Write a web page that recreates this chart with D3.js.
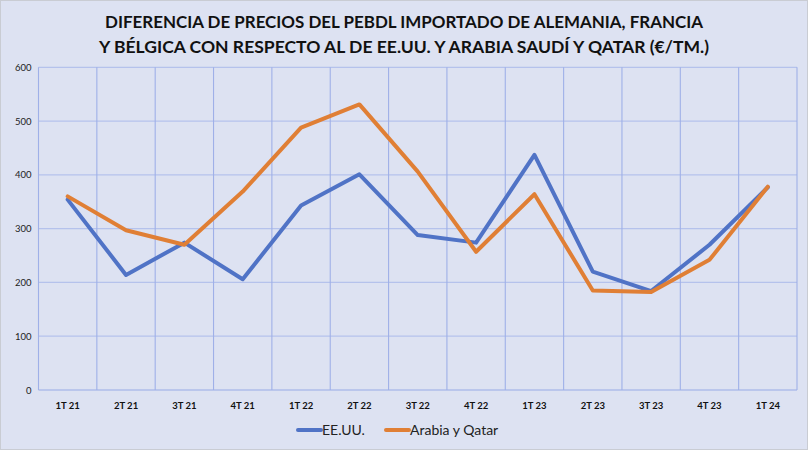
<!DOCTYPE html>
<html lang="es">
<head>
<meta charset="UTF-8">
<title>Diferencia de precios PEBDL</title>
<style>
  html, body { margin: 0; padding: 0; background: #ffffff; }
  svg { display: block; }
</style>
</head>
<body>
<svg id="chart" width="808" height="450"></svg>
<script src="https://d3js.org/d3.v7.min.js"></script>
<script>
  // datos
  var categories = ['1T 21', '2T 21', '3T 21', '4T 21', '1T 22', '2T 22', '3T 22', '4T 22',
                    '1T 23', '2T 23', '3T 23', '4T 23', '1T 24']
  var eeuu =   [354, 214, 274, 206, 343, 401, 288, 274, 437, 220, 184, 270, 377]
  var arabia = [360, 297, 270, 369, 488, 531, 406, 257, 364, 185, 182, 242, 378]
  var yTicks = [0, 100, 200, 300, 400, 500, 600]
  var seriesNames = ['EE.UU.', 'Arabia y Qatar']
  var titleLines = ['DIFERENCIA DE PRECIOS DEL PEBDL IMPORTADO DE ALEMANIA, FRANCIA',
                    'Y BÉLGICA CON RESPECTO AL DE EE.UU. Y ARABIA SAUDÍ Y QATAR (€/TM.)']

  var colors = ['#5073c6', '#e07f35']
  var W = 808, H = 450
  var margin = { left: 38.5, right: 11, top: 67.3, bottom: 60 }

  var svg = d3.select('#chart')

  // fondo con borde
  svg.append('rect')
    .attr('x', 0.5).attr('y', 0.5)
    .attr('width', W - 1).attr('height', H - 1)
    .style('fill', '#dde2f2')
    .style('stroke', '#c9ccd3')
    .style('stroke-width', '1px')

  var x = d3.scaleBand()
    .domain(categories)
    .range([margin.left, W - margin.right])
  var y = d3.scaleLinear()
    .domain([0, 600])
    .range([H - margin.bottom, margin.top])

  // líneas horizontales
  svg.append('g').selectAll('line')
    .data(yTicks)
    .enter().append('line')
    .attr('x1', margin.left).attr('x2', W - margin.right)
    .attr('y1', d => y(d)).attr('y2', d => y(d))
    .style('stroke', d => d === 0 ? '#97aae6' : '#b5c2ec')
    .style('stroke-width', '1.2px')

  // líneas verticales (entre categorías)
  var bounds = categories.map(c => x(c)).concat([x(categories[categories.length - 1]) + x.bandwidth()])
  svg.append('g').selectAll('line')
    .data(bounds)
    .enter().append('line')
    .attr('x1', d => d).attr('x2', d => d)
    .attr('y1', y(600)).attr('y2', y(0))
    .style('stroke', '#9fb0e8')
    .style('stroke-width', '1.1px')

  // eje Y
  var yAxis = svg.append('g')
    .attr('transform', 'translate(' + (margin.left - 7) + ',0)')
    .call(d3.axisLeft(y).tickValues(yTicks).tickSize(0).tickPadding(0))
  yAxis.select('.domain').remove()
  yAxis.selectAll('text')
    .style('font-family', 'Lato, "Open Sans", sans-serif')
    .style('font-size', '9.5px')
    .style('fill', '#222')

  // eje X
  var xAxis = svg.append('g')
    .attr('transform', 'translate(0,' + y(0) + ')')
    .call(d3.axisBottom(x).tickSize(0).tickPadding(12))
  xAxis.select('.domain').remove()
  xAxis.selectAll('text')
    .style('font-family', 'Lato, "Open Sans", sans-serif')
    .style('font-size', '9.5px')
    .style('font-weight', 'bold')
    .style('fill', '#111')

  // series
  var line = d3.line()
    .x((d, i) => x(categories[i]) + x.bandwidth() / 2)
    .y(d => y(d))
  ;[eeuu, arabia].forEach(function (serie, k) {
    svg.append('path')
      .datum(serie)
      .attr('d', line)
      .style('fill', 'none')
      .style('stroke', colors[k])
      .style('stroke-width', '4px')
      .style('stroke-linejoin', 'round')
      .style('stroke-linecap', 'round')
  })

  // título
  var title = svg.append('g')
  title.selectAll('text')
    .data(titleLines)
    .enter().append('text')
    .attr('x', W / 2)
    .attr('y', (d, i) => 28 + i * 25)
    .attr('text-anchor', 'middle')
    .attr('textLength', (d, i) => i === 0 ? 598 : 610)
    .attr('lengthAdjust', 'spacingAndGlyphs')
    .text(d => d)
    .style('font-family', 'Lato, "Open Sans", sans-serif')
    .style('font-size', '17.5px')
    .style('font-weight', 'bold')
    .style('fill', '#111')

  // leyenda
  var legendX = [298, 386]
  var legend = svg.append('g')
  seriesNames.forEach(function (name, k) {
    legend.append('line')
      .attr('x1', legendX[k]).attr('x2', legendX[k] + 23)
      .attr('y1', 430).attr('y2', 430)
      .style('stroke', colors[k])
      .style('stroke-width', '4px')
      .style('stroke-linecap', 'round')
    legend.append('text')
      .attr('x', legendX[k] + 24)
      .attr('y', 435)
      .text(name)
      .style('font-family', 'Lato, "Open Sans", sans-serif')
      .style('font-size', '14px')
      .style('fill', '#222')
  })
</script>
</body>
</html>
